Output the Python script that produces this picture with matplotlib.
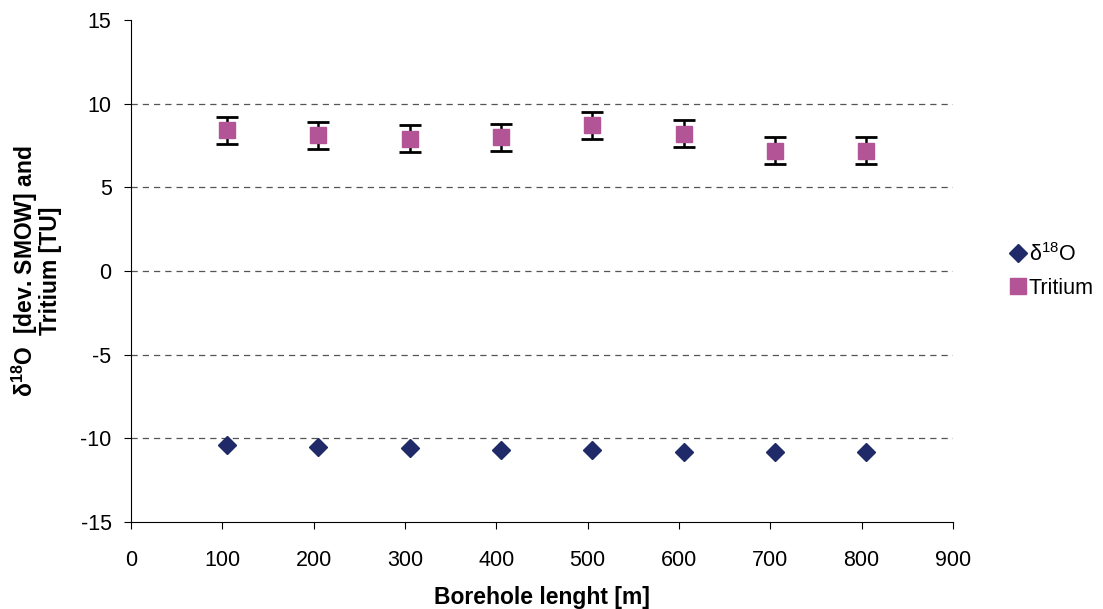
import matplotlib.pyplot as plt

plt.rcParams['font.family'] = ['Liberation Sans', 'DejaVu Sans']
plt.rcParams['axes.unicode_minus'] = False
plt.rcParams['mathtext.fontset'] = 'custom'
plt.rcParams['mathtext.rm'] = 'Liberation Sans'
plt.rcParams['mathtext.bf'] = 'Liberation Sans:bold'
plt.rcParams['mathtext.default'] = 'rm'

lengths = [105, 205, 305, 405, 505, 605, 705, 805]
d18o = [-10.4, -10.5, -10.6, -10.7, -10.7, -10.8, -10.8, -10.8]
tritium = [8.4, 8.1, 7.9, 8.0, 8.7, 8.2, 7.2, 7.2]
tritium_err = [0.8, 0.8, 0.8, 0.8, 0.8, 0.8, 0.8, 0.8]

fig = plt.figure(figsize=(11.03, 6.09), dpi=100)
ax = fig.add_axes([131/1103, 1 - 522/609, 822/1103, 502/609])

ax.plot(lengths, d18o, 'D', color='#212A68', markersize=9, label=r'δ$^{18}$O', zorder=3)
ax.errorbar(lengths, tritium, yerr=tritium_err, fmt='none', ecolor='black',
            elinewidth=1.8, capsize=8, capthick=2, zorder=2)
ax.plot(lengths, tritium, 's', color='#B35497', markersize=12, label='Tritium', zorder=3)

ax.set_xlim(0, 900)
ax.set_ylim(-15, 15)
ax.set_xticks(range(0, 901, 100))
ax.set_yticks(range(-15, 16, 5))
for yv in [-10, -5, 0, 5, 10]:
    ax.axhline(yv, color='#555555', linestyle=(0, (5, 4)), linewidth=0.9, zorder=1)

ax.spines['top'].set_visible(False)
ax.spines['right'].set_visible(False)
ax.tick_params(direction='out', length=5, labelsize=15.5)
ax.tick_params(axis='x', pad=15)
ax.tick_params(axis='y', pad=9)

ax.set_xlabel('Borehole lenght [m]', fontsize=16.5, fontweight='bold', va='center')
ax.xaxis.set_label_coords(0.5, -0.151)
ax.set_ylabel('δ$^{\\mathbf{18}}$O  [dev. SMOW] and\nTritium [TU]', fontsize=16.5,
              fontweight='bold', linespacing=0.95, va='center')
ax.yaxis.set_label_coords(-0.116, 0.5)

ax.legend(loc='center left', bbox_to_anchor=(1.045, 0.5), frameon=False, fontsize=15.5,
          handletextpad=0.0, handlelength=1.0, labelspacing=0.55, borderpad=0.3)

fig.savefig('out.png', dpi=100)
